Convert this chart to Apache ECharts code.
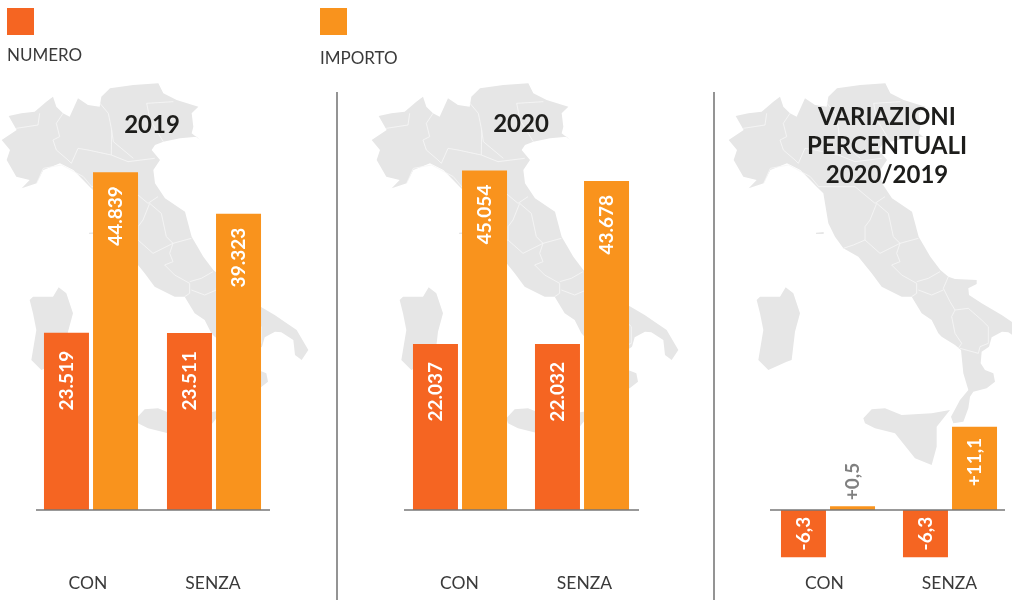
<!DOCTYPE html>
<html><head><meta charset="utf-8">
<style>html,body{margin:0;padding:0;background:#fff}#c{width:1012px;height:600px}</style>
<script src="https://cdn.jsdelivr.net/npm/echarts@6/dist/echarts.min.js"></script>
</head><body><div id="c"></div>
<script>
const categories = ['CON','SENZA'];
const numero2019 = [23519,23511];
const importo2019 = [44839,39323];
const numero2020 = [22037,22032];
const importo2020 = [45054,43678];
const numeroVar = [-6.3,-6.3];
const importoVar = [0.5,11.1];
const legendNames = ['NUMERO','IMPORTO'];
const panelTitles = ['2019','2020','VARIAZIONI\nPERCENTUALI\n2020/2019'];

const RED='#f56522', ORG='#f9931d', INK='#1d1d1b', TXT='#3a3a3a', MAP='#e6e6e6';
const FONT='Lato, "Open Sans", sans-serif';

// Decorative Italy silhouette (background picture, not data)
const mainland=[[62,108],[100,100],[140,95],[175,65],[195,50],[205,80],[225,100],[245,110],[270,55],[300,75],[335,80],[340,50],[366,25],[436,15],[511,10],[526,40],[566,60],[631,80],[611,100],[616,140],[611,160],[636,180],[626,170],[576,175],[526,185],[501,195],[491,210],[516,240],[496,270],[501,310],[531,355],[591,395],[611,470],[646,530],[676,570],[700,590],[720,597],[785,600],[785,612],[760,625],[762,645],[800,670],[860,705],[926,750],[961,810],[941,840],[921,825],[916,780],[880,757],[861,755],[830,772],[822,800],[800,815],[797,850],[810,870],[835,880],[840,905],[815,925],[775,935],[765,950],[760,985],[745,1025],[715,1030],[708,1010],[735,960],[760,930],[745,880],[738,810],[720,795],[680,770],[670,760],[650,720],[620,700],[590,650],[560,650],[500,620],[470,580],[430,530],[385,505],[360,470],[340,430],[325,340],[305,320],[256,270],[216,250],[166,270],[146,310],[101,325],[125,300],[85,290],[56,240],[66,210],[41,180],[86,150]];
const sardinia=[[125,660],[135,650],[195,650],[212,622],[235,640],[255,700],[240,755],[230,840],[215,845],[160,870],[130,840],[145,750],[135,700]];
const sicily=[[445,1015],[470,988],[510,985],[560,1005],[650,1000],[705,990],[665,1040],[665,1100],[650,1155],[600,1135],[540,1060],[480,1045],[450,1030]];
const elba=[[303,458],[326,456],[326,462],[303,462]];
const borders=[
 [[85,145],[150,135],[155,100]],
 [[225,100],[205,130],[215,170],[195,180],[205,210],[240,240],[250,250]],
 [[250,250],[270,205],[300,210],[370,225],[420,245],[500,235]],
 [[370,225],[371,150],[361,100],[336,70]],
 [[371,150],[376,185],[436,235]],
 [[476,70],[556,65]],[[476,70],[486,120],[526,185]],
 [[146,310],[166,265],[221,255],[286,290],[311,320]],
 [[311,320],[420,320],[450,345],[480,370],[510,350]],
 [[485,370],[465,420],[450,440],[450,480],[415,495],[385,505]],
 [[485,370],[520,400],[535,470],[555,490],[495,520],[450,480]],
 [[555,490],[610,475]],
 [[555,490],[545,520],[555,545],[530,555],[560,585],[605,610],[605,640],[590,650]],
 [[605,605],[640,595],[675,575]],
 [[700,590],[685,625],[705,665]],
 [[610,630],[650,645],[685,630]],
 [[705,665],[720,690],[710,710],[720,760],[740,790],[730,805]],
 [[720,690],[760,685],[800,720],[820,740],[820,790],[795,800],[790,820],[735,805]]
];
function italy(x,y){
  const kids=[mainland,sardinia,sicily,elba].map(p=>({type:'polygon',shape:{points:p},style:{fill:MAP},z:-5}));
  borders.forEach(p=>kids.push({type:'polyline',shape:{points:p},style:{stroke:'#f7f7f7',lineWidth:2.5,fill:null},z:-4}));
  return {type:'group',x:x,y:y,scaleX:1/3,scaleY:1/3,children:kids,silent:true};
}

const barPanels=[
 {left:29.5,width:246,labLeft:25.5,labWidth:250,a:numero2019,b:importo2019,base:[36,270]},
 {left:399,width:244,labLeft:397,labWidth:250,a:numero2020,b:importo2020,base:[404,639]},
 {left:767,width:244,labLeft:762,labWidth:250,a:numeroVar,b:importoVar,base:[770,1005]}
];
const fmtK=v=>String(v).replace(/\B(?=(\d{3})+$)/g,'.');
const fmtP=v=>(v>0?'+':'')+String(v).replace('.',',');

const grids=[],xAxes=[],yAxes=[],series=[];
barPanels.forEach((p,i)=>{
  const isVar=i===2;
  grids.push(isVar?{left:p.left,width:p.width,top:360,height:210}:{left:p.left,width:p.width,top:58,height:452});
  xAxes.push({type:'category',gridIndex:2*i,data:categories,show:false});
  yAxes.push(isVar?{type:'value',gridIndex:2*i,min:-8,max:20,show:false}:{type:'value',gridIndex:2*i,min:0,max:60000,show:false});
  grids.push({left:p.labLeft,width:p.labWidth,top:58,height:452});
  xAxes.push({type:'category',gridIndex:2*i+1,data:categories,axisLine:{show:false},axisTick:{show:false},
    axisLabel:{margin:73,fontFamily:FONT,fontSize:17.5,color:TXT,verticalAlign:'middle'}});
  yAxes.push({type:'value',gridIndex:2*i+1,min:0,max:1,show:false});
  const mk=(name,color,vals,dist)=>({
    type:'bar',name:name,xAxisIndex:2*i,yAxisIndex:2*i,barWidth:45,barGap:'9%',
    itemStyle:{color:color},
    data:vals.map(v=>{
      let label;
      const base={show:true,rotate:90,fontFamily:FONT,fontSize:19,fontWeight:'bold',color:'#fff',formatter:o=>isVar?fmtP(o.value):fmtK(o.value)};
      if(isVar&&v<0) label={...base,position:'inside',align:'center',verticalAlign:'middle'};
      else if(isVar&&v<1) label={...base,position:'top',distance:6,align:'left',verticalAlign:'middle',color:'#808080'};
      else label={...base,position:'insideTop',distance:isVar?11:dist,align:'right',verticalAlign:'middle'};
      return {value:v,label:label};
    })
  });
  series.push(mk(legendNames[0],RED,p.a,18),mk(legendNames[1],ORG,p.b,14));
});

const chart=echarts.init(document.getElementById('c'),null,{renderer:'canvas'});
const titleStyle={fontFamily:FONT,fontSize:24,fontWeight:'bold',fill:INK,align:'center',verticalAlign:'middle',lineHeight:29};
const legendItems=[[7,8,7,56,RED,legendNames[0]],[320,8,320,59,ORG,legendNames[1]]];
chart.setOption({
  animation:false,
  grid:grids,xAxis:xAxes,yAxis:yAxes,series:series,
  graphic:{elements:[
    italy(-12,80),italy(358,80),italy(715,80),
    {type:'text',x:152,y:125,z:6,style:{...titleStyle,text:panelTitles[0]}},
    {type:'text',x:521,y:124,z:6,style:{...titleStyle,text:panelTitles[1]}},
    {type:'text',x:887,y:146,z:6,style:{...titleStyle,text:panelTitles[2]}},
    ...legendItems.flatMap(l=>[
      {type:'rect',shape:{x:l[0],y:l[1],width:27,height:27},style:{fill:l[4]}},
      {type:'text',x:l[2],y:l[3],style:{text:l[5],fontFamily:FONT,fontSize:17,fill:TXT,verticalAlign:'middle'}}
    ]),
    {type:'line',shape:{x1:337,y1:92,x2:337,y2:600},style:{stroke:'#707070',lineWidth:1.5}},
    {type:'line',shape:{x1:714,y1:92,x2:714,y2:600},style:{stroke:'#707070',lineWidth:1.5}}
  ]}
});
const y0=chart.convertToPixel({yAxisIndex:0},0);
chart.setOption({graphic:{elements:barPanels.map((p,i)=>({id:'base'+i,type:'line',z:10,
  shape:{x1:p.base[0],y1:y0,x2:p.base[1],y2:y0},style:{stroke:'#777',lineWidth:1.5}}))}});
</script></body></html>
